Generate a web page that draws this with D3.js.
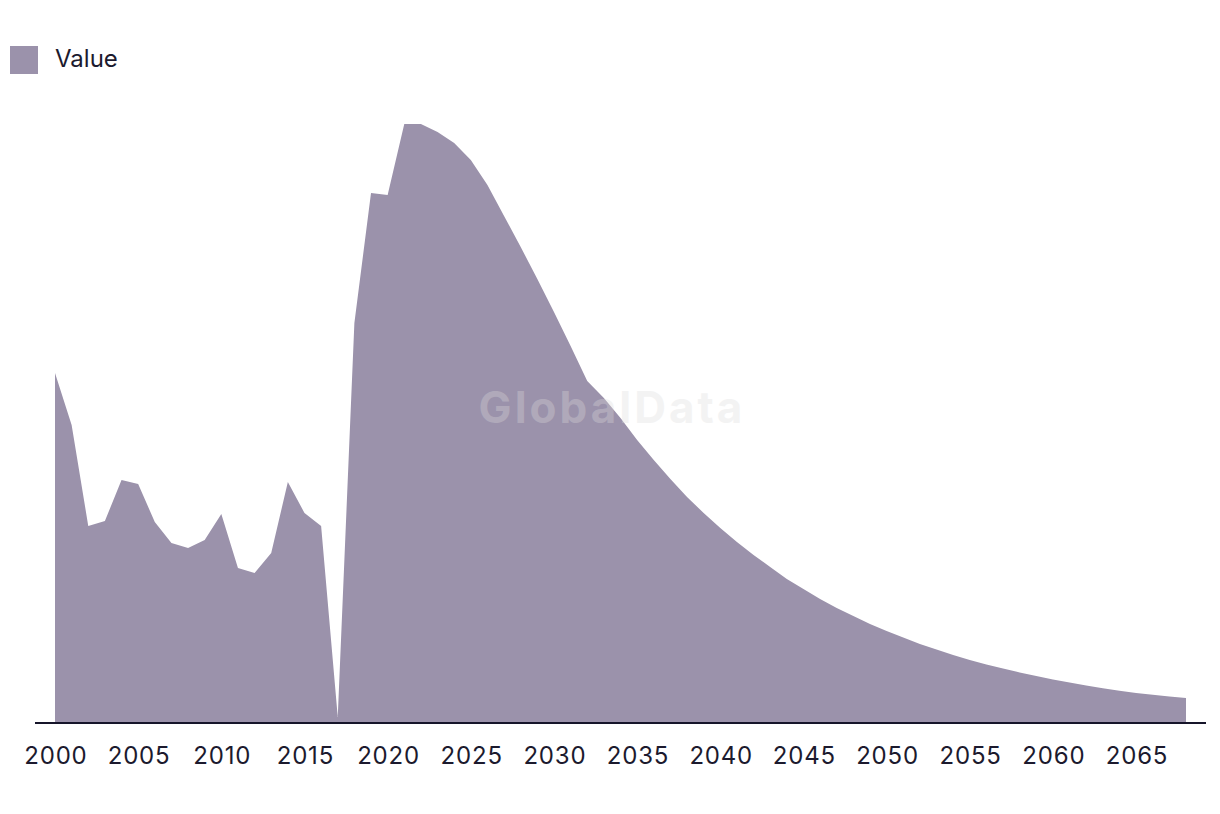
<!DOCTYPE html>
<html>
<head>
<meta charset="utf-8">
<script src="https://cdn.jsdelivr.net/npm/d3@7"></script>
<style>
  body { margin: 0; background: #fff; }
  svg { display: block; font-family: Inter, "Noto Sans", sans-serif; }
  .axis text { fill: #1c1a2e; font-size: 24px; letter-spacing: 0.8px; }
</style>
</head>
<body>
<svg></svg>
<script>
var width = 1220,
    height = 814;

var years = d3.range(2000, 2069);
var values = [
    3.50, 2.98, 1.97, 2.02, 2.43, 2.39, 2.01, 1.80, 1.75, 1.83,
    2.09, 1.55, 1.50, 1.70, 2.41, 2.10, 1.97, 0.06, 4.00, 5.30,
    5.28, 5.99, 5.99, 5.91, 5.80, 5.63, 5.38, 5.07, 4.76, 4.44,
    4.11, 3.77, 3.42, 3.25, 3.05, 2.83, 2.63, 2.44, 2.26, 2.10,
    1.95, 1.81, 1.68, 1.56, 1.44, 1.34, 1.24, 1.15, 1.07, 0.99,
    0.92, 0.855, 0.79, 0.735, 0.68, 0.63, 0.585, 0.545, 0.505, 0.47,
    0.435, 0.405, 0.375, 0.348, 0.323, 0.30, 0.282, 0.265, 0.25
];
var tickYears = d3.range(2000, 2066, 5);
var seriesName = "Value";

var data = years.map(function(d, i) {
    return { year: d, value: values[i] };
});

var svg = d3.select("svg")
    .attr("width", width)
    .attr("height", height);

var x = d3.scaleLinear()
    .domain([2000, 2068])
    .range([55, 1186]);

var y = d3.scaleLinear()
    .domain([0, 6])
    .range([723, 123]);

var area = d3.area()
    .x(function(d) { return x(d.year); })
    .y0(y(0))
    .y1(function(d) { return y(d.value); });

svg.append("path")
    .datum(data)
    .attr("fill", "#9b92ab")
    .attr("d", area);

// watermark
svg.append("text")
    .attr("x", 612)
    .attr("y", 423)
    .attr("text-anchor", "middle")
    .style("font-size", "44px")
    .style("font-weight", 700)
    .style("letter-spacing", "3px")
    .style("fill", "#dcdcdc")
    .style("opacity", 0.32)
    .text("GlobalData");

// baseline
svg.append("line")
    .attr("x1", 35)
    .attr("x2", 1206)
    .attr("y1", 723)
    .attr("y2", 723)
    .style("stroke", "#16152a")
    .style("stroke-width", 2);

svg.append("g")
    .attr("class", "axis")
    .attr("transform", "translate(0,723)")
    .call(d3.axisBottom(x)
        .tickValues(tickYears)
        .tickFormat(d3.format("d"))
        .tickSize(0)
        .tickPadding(24))
    .call(function(g) {
        g.select(".domain").remove();
        g.attr("font-family", null).attr("font-size", null);
    })
    .selectAll("text")
    .attr("dx", "0.4px");

// legend
var legend = svg.append("g");
legend.append("rect")
    .attr("x", 10)
    .attr("y", 46)
    .attr("width", 28)
    .attr("height", 28)
    .attr("fill", "#9b92ab");
legend.append("text")
    .attr("x", 55)
    .attr("y", 67)
    .style("font-size", "24px")
    .style("fill", "#1c1a2e")
    .text(seriesName);
</script>
</body>
</html>
